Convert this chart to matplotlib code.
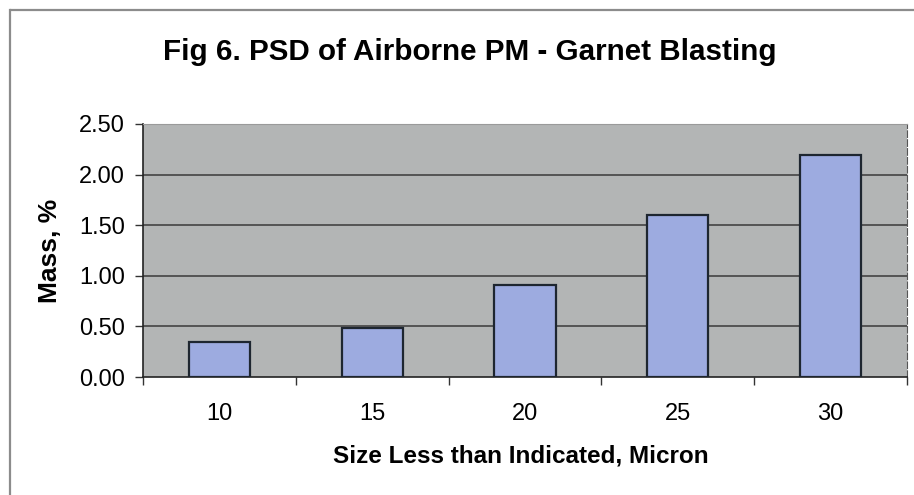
import matplotlib
matplotlib.use("Agg")
import matplotlib.pyplot as plt
from matplotlib.lines import Line2D
import numpy as np

sizes = ["10", "15", "20", "25", "30"]
mass = [0.35, 0.48, 0.91, 1.60, 2.19]
yticks = [0.0, 0.5, 1.0, 1.5, 2.0, 2.5]

plt.rcParams["font.family"] = ["Liberation Sans", "DejaVu Sans"]

W, H = 914, 495
fig = plt.figure(figsize=(W / 100, H / 100), dpi=100)
fig.patch.set_facecolor("white")

# chart frame: top and left edges of the chart area
fig.lines.append(Line2D([11 / W, 1.0], [1 - 10 / H, 1 - 10 / H],
                        transform=fig.transFigure, color="#8c8c8c", lw=1.6))
fig.lines.append(Line2D([10 / W, 10 / W], [1 - 10 / H, 0.0],
                        transform=fig.transFigure, color="#8c8c8c", lw=1.6))

ax = fig.add_axes([143 / W, 118 / H, 764 / W, 253 / H])
ax.set_facecolor("#b3b5b5")

x = np.arange(len(sizes))
ax.bar(x, mass, width=0.4, color="#9dabe0", edgecolor="#1e2630",
       linewidth=1.6, zorder=3)

ax.set_xlim(-0.5, len(sizes) - 0.5)
ax.set_ylim(0, 2.5)
ax.set_yticks(yticks)
ax.set_yticklabels([f"{v:.2f}" for v in yticks], fontsize=17)
ax.set_xticks(x)
ax.set_xticklabels(sizes, fontsize=17)
ax.tick_params(axis="x", which="major", length=0, pad=19)
ax.set_xticks(np.arange(len(sizes) + 1) - 0.5, minor=True)
ax.tick_params(axis="x", which="minor", length=6, width=1, color="#333333")
ax.tick_params(axis="y", length=6, width=1, color="#333333", pad=7)

for v in yticks[1:-1]:
    ax.axhline(v, color="#3a3a3a", linewidth=1.1, zorder=1)

for side in ["left", "bottom"]:
    ax.spines[side].set_color("#222222")
    ax.spines[side].set_linewidth(1.2)
ax.spines["top"].set_color("#9a9a9a")
ax.spines["right"].set_color("#555555")
ax.spines["right"].set_linestyle((0, (6, 2)))

fig.text(521 / W, 1 - 462 / H, "Size Less than Indicated, Micron",
         ha="center", va="baseline", fontsize=17.5, fontweight="bold")
fig.text(50 / W, 1 - 251 / H, "Mass, %", rotation=90,
         ha="center", va="center", fontsize=19, fontweight="bold")
fig.text(470 / W, 1 - 60 / H, "Fig 6. PSD of Airborne PM - Garnet Blasting",
         ha="center", va="baseline", fontsize=21.3, fontweight="bold")

fig.savefig("out.png", dpi=100)
